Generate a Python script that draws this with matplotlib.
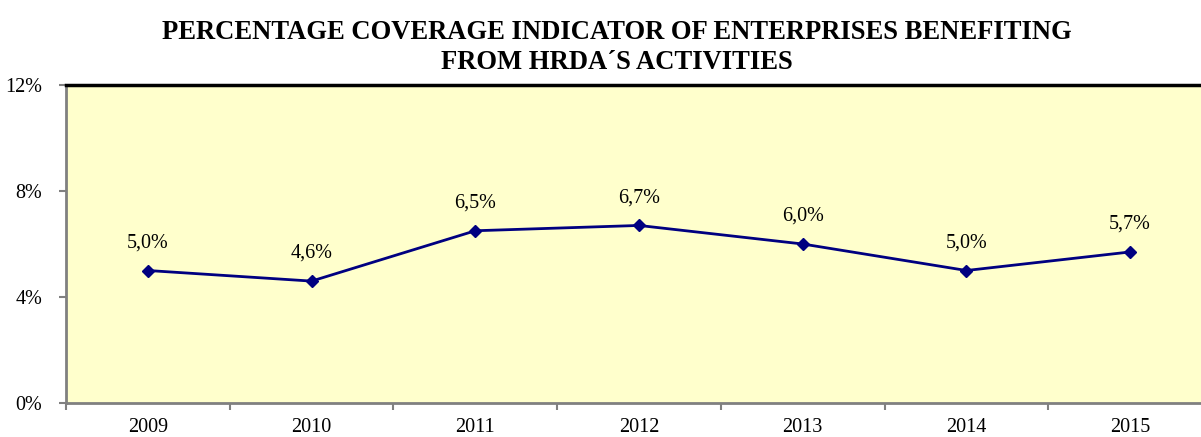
import matplotlib.pyplot as plt
import numpy as np

plt.rcParams['font.family'] = ['Liberation Serif', 'DejaVu Serif']

# data
years = ['2009', '2010', '2011', '2012', '2013', '2014', '2015']
coverage = [5.0, 4.6, 6.5, 6.7, 6.0, 5.0, 5.7]
labels = ['5,0%', '4,6%', '6,5%', '6,7%', '6,0%', '5,0%', '5,7%']

fig = plt.figure(figsize=(12.01, 4.37), dpi=100)
ax = fig.add_axes([66/1201, 34/437, 1146/1201, 318/437])
ax.set_facecolor('#ffffcc')

x = np.arange(len(years))
ax.plot(x, coverage, color='#000080', lw=2, marker='D', ms=6.5, zorder=3)
for xi, v, lab in zip(x, coverage, labels):
    ax.annotate(lab, (xi, v), xytext=(0, 13), textcoords='offset points',
                ha='center', va='bottom', fontsize=14.5)

ax.set_xlim(-0.5, len(years) - 0.5)
ax.set_ylim(0, 12)
ax.set_yticks([0, 4, 8, 12])
ax.set_yticklabels(['0%', '4%', '8%', '12%'], fontsize=14.5)
ax.set_xticks(x)
ax.set_xticklabels(years, fontsize=14.5)
ax.set_xticks(np.arange(len(years) + 1) - 0.5, minor=True)
ax.tick_params(axis='x', which='major', length=0, pad=11)
ax.tick_params(axis='x', which='minor', length=5, color='#808080', width=1.5)
ax.tick_params(axis='y', length=5, color='#808080', width=1.5, pad=12)

for s in ['left', 'bottom']:
    ax.spines[s].set_color('#808080')
    ax.spines[s].set_linewidth(2)
ax.spines['top'].set_color('black')
ax.spines['top'].set_linewidth(2.5)
ax.spines['right'].set_visible(False)

fig.text(617/1201, 0.955, 'PERCENTAGE COVERAGE INDICATOR OF ENTERPRISES BENEFITING\nFROM HRDA\u00b4S ACTIVITIES',
         ha='center', va='top', fontsize=19.2, fontweight='bold', linespacing=1.3)

fig.savefig('out.png', dpi=100)
